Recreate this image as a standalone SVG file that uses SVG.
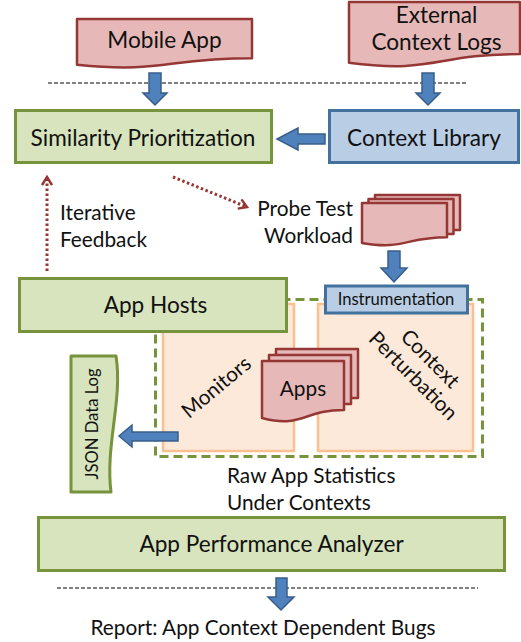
<svg xmlns="http://www.w3.org/2000/svg" width="521" height="642" viewBox="0 0 521 642">
  <style>
    text { font-family: Lato, "Open Sans", "Liberation Sans", sans-serif; fill: #111; }
    .lg { font-size: 22.6px; }
    .md { font-size: 20.8px; }
    .sm { font-size: 16.6px; }
    .c { text-anchor: middle; }
    .doc { fill: #e6b9b8; stroke: #953735; stroke-width: 2.5; stroke-linejoin: round; }
    .green { fill: #d7e4bd; stroke: #77933c; stroke-width: 3; }
    .blue { fill: #b9cde5; stroke: #41719c; stroke-width: 3; }
    .peach { fill: #fde9d9; stroke: #fac090; stroke-width: 2.5; }
    .barrow { fill: #4f81bd; stroke: #385d8a; stroke-width: 1.5; stroke-linejoin: miter; }
    .sep { stroke: #000; stroke-width: 1; stroke-dasharray: 4 2; fill: none; }
    .dotted { stroke: #953735; stroke-width: 3; stroke-dasharray: 2.5 2.5; fill: none; marker-end: url(#chev); }
  </style>
  <defs>
    <marker id="chev" viewBox="0 0 12 12" refX="10" refY="6" markerWidth="12" markerHeight="12" markerUnits="userSpaceOnUse" orient="auto">
      <path d="M2,1 L10,6 L2,11" fill="none" stroke="#953735" stroke-width="2.5"/>
    </marker>
  </defs>

  <!-- separator lines -->
  <line class="sep" x1="48" y1="83" x2="468" y2="83"/>
  <line class="sep" x1="57" y1="588" x2="478" y2="588"/>

  <g id="mobile-app">
    <path class="doc" d="M77 19 H252 V58.3 C164.5 58.3 164.5 73.3 77 64.8 Z"/>
    <text class="lg c" x="164.5" y="48">Mobile App</text>
  </g>

  <g id="external-logs">
    <path class="doc" d="M349 2 H520 V54.1 C434.5 54.1 434.5 74 349 62.7 Z"/>
    <text class="lg c" x="436.5" y="23">External</text>
    <text class="lg c" x="436.5" y="50">Context Logs</text>
  </g>

  <g id="similarity">
    <rect class="green" x="15.5" y="110.5" width="256" height="52"/>
    <text class="lg c" x="143" y="146">Similarity Prioritization</text>
  </g>

  <g id="context-library">
    <rect class="blue" x="329.5" y="110.5" width="189" height="52"/>
    <text class="lg c" x="424" y="146">Context Library</text>
  </g>

  <g id="feedback-label">
    <text class="md" x="60" y="220">Iterative</text>
    <text class="md" x="60" y="247">Feedback</text>
  </g>

  <g id="probe-workload">
    <rect class="doc" x="375" y="195" width="85" height="35"/>
    <rect class="doc" x="368.5" y="199" width="85" height="35"/>
    <path class="doc" d="M362 203 H447 V237.3 C404.5 237.3 404.5 250.4 362 243 Z"/>
    <text class="md" x="353" y="216" text-anchor="end">Probe Test</text>
    <text class="md" x="353" y="243" text-anchor="end">Workload</text>
  </g>

  <g id="app-environment">
    <rect x="155.5" y="299.5" width="327" height="157" fill="none" stroke="#77933c" stroke-width="3" stroke-dasharray="9 5"/>
  </g>

  <g id="monitors">
    <rect class="peach" x="163" y="304" width="131" height="147"/>
    <text class="md c" transform="translate(217,388) rotate(-40)" y="6">Monitors</text>
  </g>

  <g id="context-perturbation">
    <rect class="peach" x="318" y="304" width="155" height="147"/>
    <g transform="translate(421,368) rotate(45)">
      <text class="md c" y="-6">Context</text>
      <text class="md c" y="18">Perturbation</text>
    </g>
  </g>

  <g id="app-hosts">
    <rect class="green" x="19.5" y="278.5" width="267" height="53"/>
    <text class="lg c" x="155.5" y="313">App Hosts</text>
  </g>

  <g id="instrumentation">
    <rect class="blue" x="325.5" y="286" width="142" height="27"/>
    <text class="sm c" x="396" y="305">Instrumentation</text>
  </g>

  <g id="apps">
    <rect class="doc" x="276" y="349" width="82" height="49"/>
    <rect class="doc" x="269" y="355" width="82" height="49"/>
    <path class="doc" d="M262 361 H344 V410 C303 410 303 428.5 262 418 Z"/>
    <text class="md c" x="303" y="396">Apps</text>
  </g>

  <g id="json-log">
    <path d="M71 356 H116 C123 400 105 445 111 492 H71 Z" fill="#d7e4bd" stroke="#77933c" stroke-width="3" stroke-linejoin="round"/>
    <text class="sm c" transform="translate(98,424) rotate(-90)">JSON Data Log</text>
  </g>

  <g id="raw-stats-label">
    <text class="md" x="227" y="483">Raw App Statistics</text>
    <text class="md" x="227" y="510">Under Contexts</text>
  </g>

  <g id="analyzer">
    <rect class="green" x="38.5" y="517.5" width="466" height="53"/>
    <text class="lg c" x="271.5" y="552">App Performance Analyzer</text>
  </g>

  <g id="report">
    <text class="md c" x="263" y="635">Report: App Context Dependent Bugs</text>
  </g>

  <g id="connectors">
    <polygon class="barrow" points="149,73 161,73 161,93 167,93 155,105 143,93 149,93"/>
    <polygon class="barrow" points="422,73 434,73 434,93 440,93 428,105 416,93 422,93"/>
    <polygon class="barrow" points="325,134 298,134 298,128 277,139 298,150 298,144 325,144"/>
    <polygon class="barrow" points="388,251 400,251 400,268 407,268 394,282 381,268 388,268"/>
    <polygon class="barrow" points="178,432 132,432 132,425 119,436 132,447 132,441 178,441"/>
    <polygon class="barrow" points="276,578 287,578 287,597 294,597 281,610 268,597 276,597"/>
    <line class="dotted" x1="47" y1="271" x2="47" y2="177"/>
    <line class="dotted" x1="173" y1="177" x2="247" y2="207"/>
  </g>
</svg>
